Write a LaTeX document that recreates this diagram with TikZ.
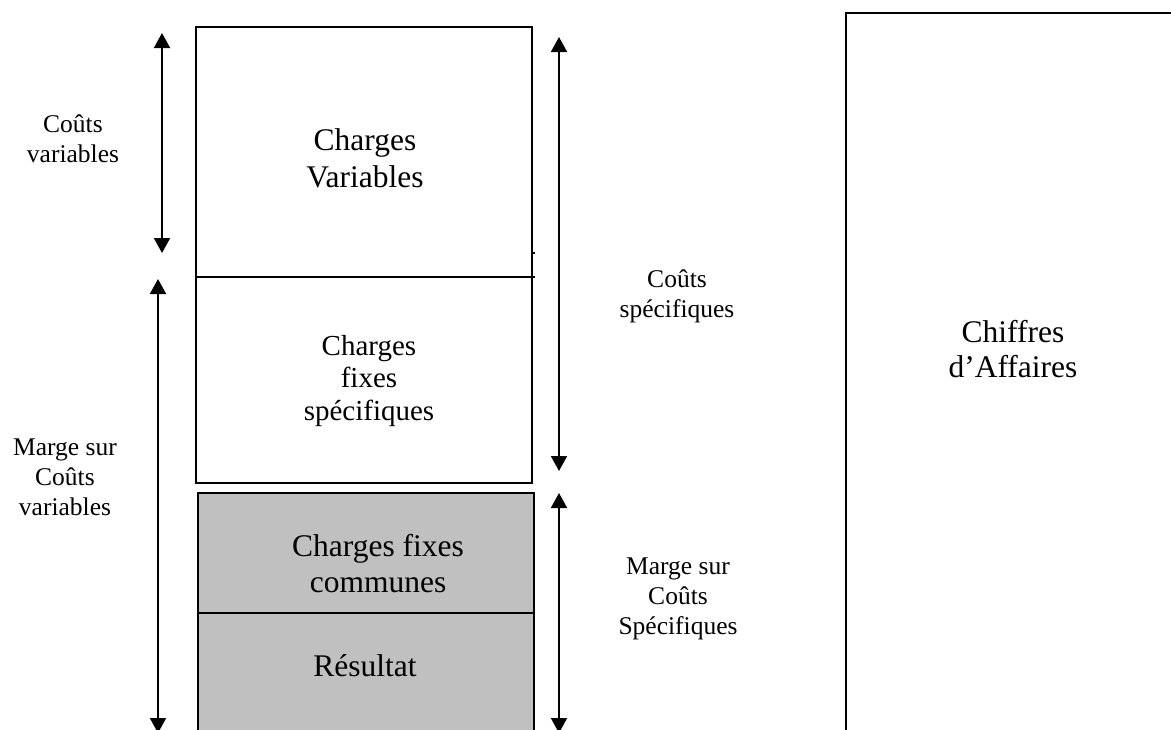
\documentclass[tikz,border=0pt]{standalone}
\usepackage{fontspec}
\setmainfont{Liberation Serif}
\usetikzlibrary{arrows.meta}
\definecolor{boxgray}{RGB}{192,192,192}
\tikzset{
  smalltxt/.style={align=center,inner sep=0pt,font=\fontsize{25.5}{30}\selectfont},
  bigtxt/.style={align=center,inner sep=0pt,font=\fontsize{31.5}{36}\selectfont},
  boxline/.style={line width=1.6pt},
  dimarrow/.style={line width=2pt,{Triangle[length=15pt,width=16pt]}-{Triangle[length=15pt,width=16pt]}}
}
\begin{document}
\begin{tikzpicture}[x=1pt,y=-1pt]
\useasboundingbox (0,0) rectangle (1171,729);
\clip (0,0) rectangle (1171,729);

% upper white column
\draw[boxline] (196,27) rectangle (532,483);
\draw[boxline] (196,277) -- (535,277);
\draw[line width=1.2pt] (532,253) -- (535,253);

% lower grey column
\draw[boxline, fill=boxgray] (198,493) rectangle (534,760);
\draw[boxline] (198,613) -- (534,613);

% right column
\draw[line width=2pt] (846,13) rectangle (1200,770);

% arrow end points
\coordinate (cvTop) at (162,33);
\coordinate (cvBot) at (162,253);
\coordinate (mcvTop) at (158,279);
\coordinate (mcvBot) at (158,733);
\coordinate (csTop) at (559,37);
\coordinate (csBot) at (559,471);
\coordinate (mcsTop) at (559,493);
\coordinate (mcsBot) at (559,733);

\draw[dimarrow] (cvTop) -- (cvBot);
\draw[dimarrow] (mcvTop) -- (mcvBot);
\draw[dimarrow] (csTop) -- (csBot);
\draw[dimarrow] (mcsTop) -- (mcsBot);

% texts
\node[smalltxt] (tcv) at (73,139) {Coûts\\variables};
\node[smalltxt] (tmcv) at (65,477) {Marge sur\\Coûts\\variables};
\node[smalltxt] (tcs) at (677,296) {Coûts\\spécifiques};
\node[smalltxt] (tmcs) at (678,599) {Marge sur\\Coûts\\Spécifiques};

\node[bigtxt,font=\fontsize{31.5}{37}\selectfont] (tchv) at (365,158) {Charges\\Variables};
\node[bigtxt,font=\fontsize{29}{32.5}\selectfont] (tcfs) at (369,381) {Charges\\fixes\\spécifiques};
\node[bigtxt] (tcfc) at (378,564) {Charges fixes\\communes};
\node[bigtxt] (tres) at (365,666) {Résultat};
\node[bigtxt,font=\fontsize{31.5}{35}\selectfont] (tca) at (1013,349) {Chiffres\\d’Affaires};
\end{tikzpicture}
\end{document}
